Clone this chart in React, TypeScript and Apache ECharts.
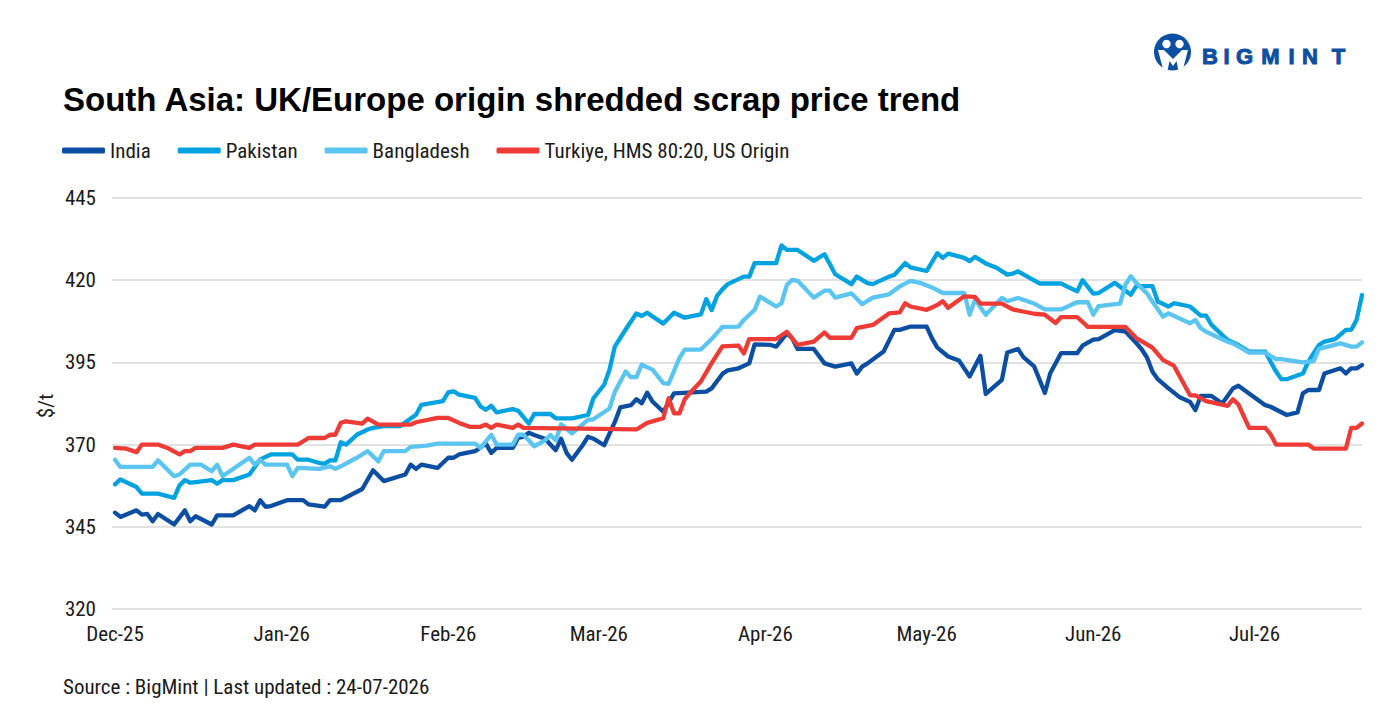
import React, { useEffect, useRef } from 'react';
import * as echarts from 'echarts';

const monthStarts = [0, 31, 62, 90, 121, 151, 182, 212];
const monthLabels = ['Dec-25', 'Jan-26', 'Feb-26', 'Mar-26', 'Apr-26', 'May-26', 'Jun-26', 'Jul-26'];
const yTicks = [320, 345, 370, 395, 420, 445];

// day offsets from 1 Dec 2025 and prices ($/t)
const indiaDays = [0,1,4,5,6,7,8,11,13,14,15,18,19,22,25,26,27,28,29,32,35,36,39,40,42,46,48,50,54,55,56,57,60,62,63,64,67,69,70,71,74,75,76,77,78,80,82,83,84,85,87,88,89,91,93,94,96,97,98,99,100,102,104,110,111,113,114,116,118,119,122,123,125,126,127,130,132,134,137,138,139,140,143,145,146,148,151,152,153,155,157,159,161,162,165,166,168,169,171,173,174,176,179,180,182,183,186,188,190,191,192,193,194,196,198,200,201,202,204,206,208,209,214,215,218,220,221,222,224,225,228,229,230,231,232];
const indiaPrices = [349.3,348.0,350.0,348.7,348.9,346.7,348.9,345.7,350.0,346.7,348.2,345.7,348.5,348.5,351.3,350.0,353.1,351.1,351.3,353.1,353.1,351.8,351.1,353.1,353.1,356.5,362.2,358.9,360.9,363.9,362.6,363.9,362.9,366.0,366.0,367.0,368.0,370.3,367.5,369.0,369.0,372.0,372.4,373.6,372.9,371.8,368.3,371.8,367.5,365.4,369.8,372.4,371.8,369.8,376.9,381.3,382.0,383.8,382.6,385.8,383.1,380.0,385.6,386.1,387.1,391.5,392.6,393.2,394.7,400.5,400.3,399.8,403.8,402.3,399.1,399.1,394.7,393.7,394.7,391.6,393.7,394.7,398.3,404.9,404.9,405.9,405.9,402.3,399.5,396.8,395.6,390.7,397.0,385.4,389.7,398.0,399.1,396.6,393.8,385.7,391.7,397.8,397.8,400.1,401.9,402.1,404.8,404.4,400.9,399.0,396.5,392.2,389.9,387.1,384.5,383.0,380.5,384.8,384.8,382.5,387.1,387.9,382.0,381.5,379.0,379.8,385.6,386.6,386.6,391.6,393.2,391.6,393.2,393.2,394.2];

const pakistanDays = [0,1,4,5,8,11,12,13,14,15,18,19,20,22,25,26,27,29,33,34,36,38,39,40,41,42,43,45,47,48,50,53,56,57,61,62,63,64,67,68,69,70,71,74,75,77,78,81,82,85,88,89,91,92,93,95,97,98,99,102,104,106,109,110,111,112,113,114,117,118,119,123,124,125,127,130,132,134,137,138,140,141,144,145,147,148,151,153,154,155,158,159,160,162,164,166,167,168,172,176,179,180,182,183,186,189,190,193,194,196,197,200,202,203,204,207,209,211,214,215,216,217,218,221,222,224,225,227,229,230,231,232];
const pakistanPrices = [357.9,359.4,357.1,355.1,355.1,353.8,357.6,359.2,358.4,358.6,359.2,358.1,359.2,359.2,360.9,363.2,365.5,367.0,367.0,365.4,365.4,364.4,364.2,365.2,365.2,370.7,370.0,373.0,374.6,375.1,375.6,375.6,379.1,382.1,383.2,385.9,386.2,385.2,384.2,381.6,380.6,381.8,379.8,380.8,380.3,376.4,379.3,379.3,378.0,378.0,379.0,384.1,388.2,392.8,399.9,405.0,409.9,409.1,410.1,406.8,410.1,408.6,409.6,414.2,410.9,415.2,417.2,418.8,421.1,421.1,425.2,425.2,430.6,429.2,429.2,425.9,427.9,421.8,418.8,421.1,419.1,418.8,421.1,421.6,425.2,423.9,422.8,428.2,426.8,428.1,426.8,425.8,427.1,425.1,423.8,421.7,422.0,422.7,419.0,419.0,416.6,420.0,415.9,416.1,419.2,415.6,418.2,418.2,413.5,412.0,413.0,412.0,409.2,409.2,406.4,401.8,400.3,398.3,398.3,395.2,392.2,389.9,389.9,391.6,395.2,400.3,401.3,402.1,404.9,404.9,408.0,415.5];

const bangladeshDays = [0,1,7,8,11,12,14,16,18,19,20,25,26,27,28,32,33,34,38,40,41,42,45,47,49,50,54,55,58,60,67,68,70,71,74,75,76,78,80,81,82,83,85,88,89,92,93,95,96,97,98,100,102,103,105,106,109,111,113,116,117,119,120,123,124,125,126,127,130,132,133,134,137,139,141,144,146,148,150,152,154,158,159,160,162,165,166,168,171,173,176,179,181,182,183,187,188,189,190,192,193,195,196,200,201,202,203,207,208,211,214,216,217,221,223,224,228,230,231,232];
const bangladeshPrices = [365.4,363.2,363.2,365.2,360.4,360.9,363.9,363.9,361.9,363.9,360.4,366.0,363.9,365.4,363.9,363.9,360.4,362.9,362.6,363.4,362.6,363.4,366.0,368.0,364.9,368.0,368.0,369.3,369.7,370.3,370.3,369.0,373.0,370.0,370.0,373.0,373.0,369.5,371.3,372.9,371.3,376.2,373.4,377.5,377.7,381.0,386.1,392.2,390.5,390.5,394.3,392.8,388.7,388.5,396.3,398.9,398.9,402.1,405.8,405.9,407.9,411.0,415.0,412.0,413.0,418.6,420.1,419.8,414.7,416.8,416.8,414.7,416.0,412.7,414.7,415.7,418.1,419.8,419.1,417.8,416.1,416.1,409.5,414.1,409.5,414.6,413.6,414.6,412.9,411.1,411.1,413.3,413.3,409.5,412.1,412.9,418.7,421.2,419.2,416.0,413.5,408.9,409.9,406.9,407.9,405.4,404.3,401.3,400.8,398.0,398.0,396.0,396.0,395.0,395.4,399.1,400.8,399.8,399.8,401.1];

const turkiyeDays = [0,2,4,5,8,10,12,13,14,15,20,22,25,26,34,36,39,40,41,42,43,46,47,49,55,56,60,62,64,66,68,69,70,71,74,75,76,97,99,102,103,104,105,106,107,109,111,113,116,117,118,123,125,127,130,132,133,137,138,141,144,146,147,148,151,152,153,154,155,158,160,161,165,167,171,173,175,176,179,181,188,190,192,193,195,197,200,201,203,207,208,209,211,214,215,216,222,223,229,230,231,232];
const turkiyePrices = [369.0,368.8,367.7,370.0,370.0,368.8,367.0,368.0,368.0,369.0,369.0,370.0,369.0,370.0,370.0,372.0,372.0,373.0,373.0,376.6,377.1,376.4,377.9,376.1,376.1,376.8,378.1,378.1,376.6,375.4,375.4,376.1,375.1,376.1,375.1,376.1,375.1,374.6,376.6,378.0,384.1,379.5,379.5,383.8,385.8,389.2,394.8,399.9,400.1,397.7,402.1,402.1,404.3,400.3,401.3,404.1,402.5,402.5,405.4,406.4,409.9,410.2,413.0,412.0,411.0,411.7,412.5,413.6,411.6,415.1,414.9,412.9,412.9,411.1,409.8,409.5,407.0,408.8,408.8,405.8,405.8,402.4,400.5,399.5,395.7,394.0,385.0,385.0,383.2,381.8,383.8,382.2,375.1,375.1,373.1,370.0,370.0,368.8,368.8,375.1,375.1,376.4];

const seriesNames = ['India', 'Pakistan', 'Bangladesh', 'Turkiye, HMS 80:20, US Origin'];
const seriesColors = ['#0b4ea2', '#00a3e0', '#5bc5f2', '#ef3b36'];

const NARROW = "'Liberation Sans Narrow', 'Arial Narrow', 'Roboto Condensed', 'DejaVu Sans Condensed', sans-serif";
const SANS = "'Liberation Sans', Arial, Helvetica, sans-serif";

const zip = (d: number[], p: number[]) => d.map((x, i) => [x, p[i]]);

const logoLetters = ['B', 'I', 'G', 'M', 'I', 'N', 'T'];
const logoLetterX = [1210, 1226.5, 1244.5, 1270.5, 1291.5, 1310, 1338.5];

export default function App() {
  const ref = useRef<HTMLDivElement>(null);
  useEffect(() => {
    document.body.style.margin = '0';
    const chart = echarts.init(ref.current as HTMLDivElement, null, { renderer: 'svg' });
    const dataSets = [
      zip(indiaDays, indiaPrices),
      zip(pakistanDays, pakistanPrices),
      zip(bangladeshDays, bangladeshPrices),
      zip(turkiyeDays, turkiyePrices),
    ];
    const logoBlue = '#0d4fa3';
    const option: any = {
      animation: false,
      backgroundColor: '#ffffff',
      grid: { left: 112, right: 36, top: 198, bottom: 99, containLabel: false },
      legend: {
        left: 57,
        top: 135,
        icon: 'roundRect',
        itemWidth: 43,
        itemHeight: 6,
        itemGap: 27,
        textStyle: { fontFamily: NARROW, fontSize: 21, color: '#1a1a1a' },
        data: seriesNames,
      },
      xAxis: {
        type: 'value',
        min: -0.56,
        max: 232,
        axisLine: { show: false },
        axisTick: { show: false },
        splitLine: { show: false },
        axisLabel: {
          customValues: monthStarts,
          formatter: (v: number) => {
            const i = monthStarts.indexOf(Math.round(v));
            return i >= 0 ? monthLabels[i] : '';
          },
          fontFamily: NARROW,
          fontSize: 21,
          color: '#1a1a1a',
          margin: 14,
        },
      },
      yAxis: {
        type: 'value',
        min: yTicks[0],
        max: yTicks[yTicks.length - 1],
        interval: 25,
        axisLine: { show: false },
        axisTick: { show: false },
        splitLine: { lineStyle: { color: '#d9d9d9', width: 1.6 } },
        axisLabel: { fontFamily: NARROW, fontSize: 21, color: '#1a1a1a', margin: 16 },
      },
      series: seriesNames.map((name, i) => ({
        name,
        type: 'line',
        data: dataSets[i],
        showSymbol: false,
        symbol: 'none',
        color: seriesColors[i],
        itemStyle: { color: seriesColors[i] },
        lineStyle: { color: seriesColors[i], width: 4.3, cap: 'round', join: 'round' },
      })),
      graphic: [
        {
          type: 'text',
          x: 63,
          y: 99,
          style: {
            text: 'South Asia: UK/Europe origin shredded scrap price trend',
            fill: '#000000',
            font: `bold 33px ${SANS}`,
            textAlign: 'left',
            textVerticalAlign: 'middle',
          },
        },
        {
          type: 'text',
          x: 46,
          y: 406,
          rotation: Math.PI / 2,
          style: {
            text: '$/t',
            fill: '#1a1a1a',
            font: `21px ${NARROW}`,
            textAlign: 'center',
            textVerticalAlign: 'middle',
          },
        },
        {
          type: 'text',
          x: 63,
          y: 687,
          style: {
            text: 'Source : BigMint | Last updated : 24-07-2026',
            fill: '#1a1a1a',
            font: `21px ${NARROW}`,
            textAlign: 'left',
            textVerticalAlign: 'middle',
          },
        },
        { type: 'circle', shape: { cx: 1172.5, cy: 52, r: 18.5 }, style: { fill: logoBlue } },
        { type: 'circle', shape: { cx: 1166.5, cy: 44, r: 4.2 }, style: { fill: '#ffffff' } },
        { type: 'circle', shape: { cx: 1179.5, cy: 44, r: 4.2 }, style: { fill: '#ffffff' } },
        {
          type: 'polygon',
          shape: {
            points: [
              [1158, 50], [1164, 50], [1173, 59], [1182, 50], [1188, 50],
              [1182.5, 71], [1178.5, 71], [1176.5, 61], [1173, 66], [1169.5, 61], [1167.5, 71], [1163.5, 71],
            ],
          },
          style: { fill: '#ffffff' },
        },
        ...logoLetters.map((ch, i) => ({
          type: 'text',
          x: logoLetterX[i],
          y: 56,
          style: {
            text: ch,
            fill: logoBlue,
            stroke: logoBlue,
            lineWidth: 1,
            fontFamily: 'Liberation Sans',
            fontWeight: 'bold',
            fontSize: 22,
            textAlign: 'center',
            textVerticalAlign: 'middle',
          },
        })),
      ],
    };
    chart.setOption(option);
    return () => chart.dispose();
  }, []);
  return <div ref={ref} style={{ width: 1398, height: 708, background: '#ffffff' }} />;
}
